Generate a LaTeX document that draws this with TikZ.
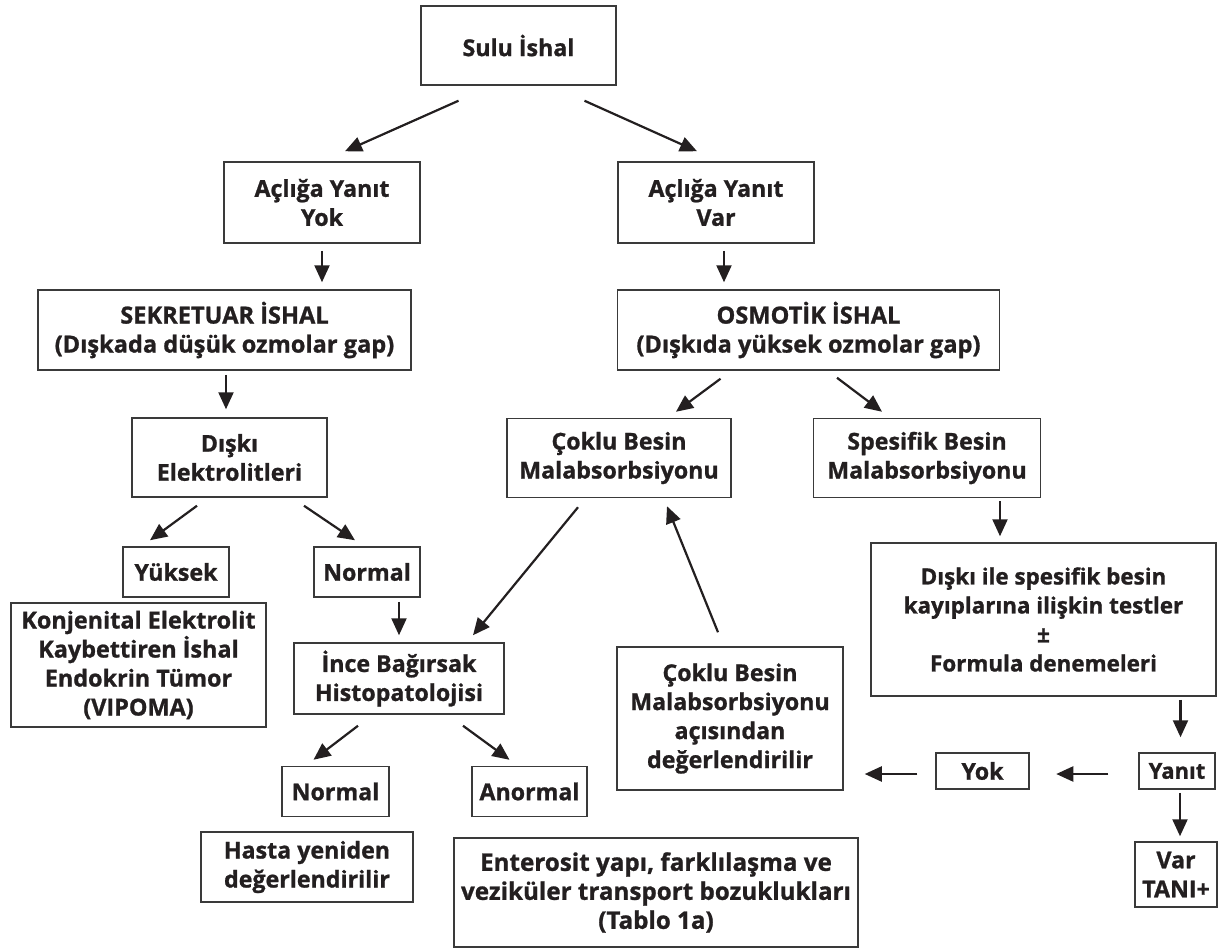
\documentclass[tikz,border=0pt]{standalone}
\usepackage{fontspec}
\setmainfont{Open Sans}[BoldFeatures={FakeBold=1}]
\usetikzlibrary{arrows.meta,calc}
\definecolor{txt}{HTML}{231F20}
\definecolor{bord}{HTML}{3A3A3A}
\begin{document}
\begin{tikzpicture}[x=1pt,y=-1pt,
  box/.style={draw=bord, line width=1.5pt, align=center, inner sep=0pt, text=txt,
    font=\bfseries\fontsize{23.2}{29}\selectfont},
  fs/.style={font=\bfseries\fontsize{#1}{29}\selectfont},
  arr/.style={draw=txt, line width=2.2pt, -{Triangle[length=17pt,width=15pt]}}]
\useasboundingbox[fill=white] (0,0) rectangle (1226,952);

\node[box, minimum width=195pt, minimum height=79pt] (sulu) at (518.5,45.5) {Sulu İshal};
\node[box, minimum width=196pt, minimum height=81pt] (ayok) at (322,202.5) {Açlığa Yanıt\\Yok};
\node[box, minimum width=196pt, minimum height=81pt] (avar) at (716,202.5) {Açlığa Yanıt\\Var};
\node[box, fs=23.6, minimum width=373pt, minimum height=80pt] (sek) at (224.5,330) {SEKRETUAR İSHAL\\(Dışkada düşük ozmolar gap)};
\node[box, fs=23.6, minimum width=382pt, minimum height=80pt] (osm) at (808.5,330) {OSMOTİK İSHAL\\(Dışkıda yüksek ozmolar gap)};
\node[box, minimum width=195pt, minimum height=79pt] (diskel) at (229.5,457.5) {Dışkı\\Elektrolitleri};
\node[box, minimum width=224pt, minimum height=79pt] (coklu) at (619,458) {Çoklu Besin\\Malabsorbsiyonu};
\node[box, minimum width=227pt, minimum height=79pt] (spes) at (927,458) {Spesifik Besin\\Malabsorbsiyonu};
\node[box, minimum width=106pt, minimum height=50pt] (yuksek) at (176,572) {Yüksek};
\node[box, minimum width=106pt, minimum height=50pt] (normA) at (367,572) {Normal};
\node[box, fs=23.4, minimum width=255pt, minimum height=124pt] (konj) at (138.5,665) {Konjenital Elektrolit\\Kaybettiren İshal\\Endokrin Tümor\\(VIPOMA)};
\node[box, minimum width=210pt, minimum height=71pt] (ince) at (399,678.5) {İnce Bağırsak\\Histopatolojisi};
\node[box, minimum width=107pt, minimum height=50pt] (normB) at (335.5,791.5) {Normal};
\node[box, minimum width=115pt, minimum height=50pt] (anorm) at (529.5,791.5) {Anormal};
\node[box, minimum width=212pt, minimum height=70pt] (hasta) at (307,867) {Hasta yeniden\\değerlendirilir};
\node[box, fs=24.2, minimum width=404pt, minimum height=109pt] (ent) at (656,892.5) {Enterosit yapı, farklılaşma ve\\veziküler transport bozuklukları\\(Tablo 1a)};
\node[box, minimum width=226pt, minimum height=143pt] (cokdeg) at (730,718.5) {Çoklu Besin\\Malabsorbsiyonu\\açısından\\değerlendirilir};
\node[box, fs=22.4, minimum width=345pt, minimum height=153pt] (diskile) at (1043.5,619.5) {Dışkı ile spesifik besin\\kayıplarına ilişkin testler\\±\\Formula denemeleri};
\node[box, minimum width=93pt, minimum height=36pt] (yok) at (982.5,771) {Yok};
\node[box, fs=22, minimum width=76pt, minimum height=36pt] (yanit) at (1177,771) {Yanıt};
\node[box, minimum width=82pt, minimum height=65pt] (var) at (1176,874.5) {Var\\TANI+};

% connectors
\draw[arr] ($(sulu.south)+(-60,15)$) -- ($(ayok.north)+(23,-10)$);
\draw[arr] ($(sulu.south)+(66,15)$) -- ($(avar.north)+(-19,-10)$);
\draw[arr] ($(ayok.south)+(0,7)$) -- ($(ayok.south |- sek.north)+(0,-7)$);
\draw[arr] ($(avar.south)+(8,7)$) -- ($(avar.south |- osm.north)+(8,-7)$);
\draw[arr] ($(sek.south)+(1.5,4)$) -- ($(sek.south |- diskel.north)+(1.5,-8)$);
\draw[arr] ($(osm.south)+(-88,8)$) -- ($(coklu.north)+(57,-6)$);
\draw[arr] ($(osm.south)+(28.5,7)$) -- ($(spes.north)+(-45,-6)$);
\draw[arr] ($(diskel.south)+(-32.5,8)$) -- ($(yuksek.north)+(-26,-6)$);
\draw[arr] ($(diskel.south)+(74.5,8)$) -- ($(normA.north)+(-12,-6)$);
\draw[arr] ($(normA.south)+(32,4)$) -- ($(normA.south |- ince.north)+(32,-7)$);
\draw[arr] ($(coklu.south)+(-41,9)$) -- ($(ince.north)+(74,-7)$);
\draw[arr] ($(cokdeg.north)+(-12,-14)$) -- ($(coklu.south)+(48,8)$);
\draw[arr] ($(spes.south)+(73,3)$) -- ($(spes.south |- diskile.north)+(73,-6)$);
\draw[arr] ($(diskile.south)+(137,3)$) -- ($(diskile.south |- yanit.north)+(137,-15)$);
\draw[arr] ($(yanit.south)+(3,3)$) -- ($(yanit.south |- var.north)+(3,-5)$);
\draw[arr] ($(yanit.west)+(-30,3)$) -- ($(yanit.west)+(-82,3)$);
\draw[arr] ($(yok.west)+(-18,3)$) -- ($(cokdeg.east |- yok.west)+(21,3)$);
\draw[arr] ($(ince.south)+(-41,11)$) -- ($(normB.north)+(-22,-6)$);
\draw[arr] ($(ince.south)+(64,11)$) -- ($(anorm.north)+(-20,-6)$);
\end{tikzpicture}
\end{document}
